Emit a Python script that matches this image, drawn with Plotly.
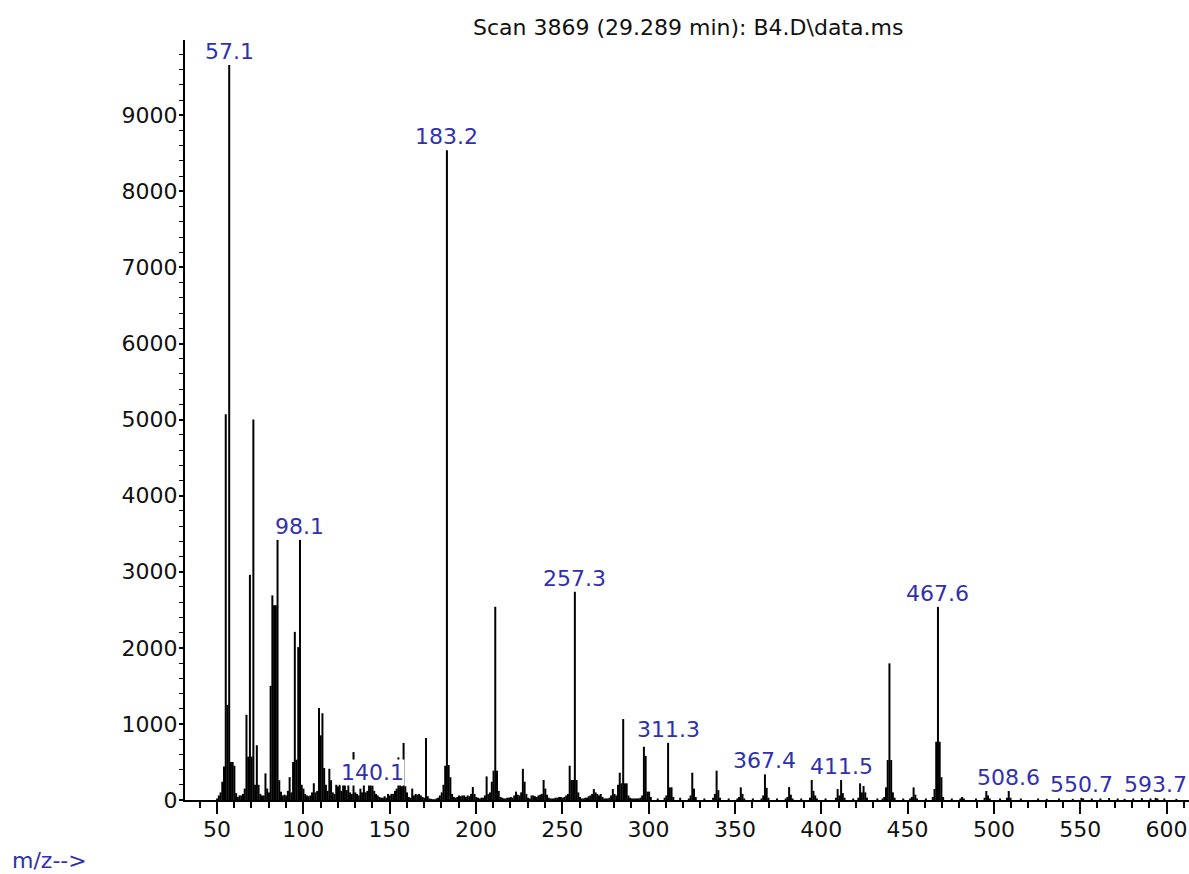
import plotly.graph_objects as go

title_text = "Scan 3869 (29.289 min): B4.D\\data.ms"
axis_note = "m/z-->"

# ---- spectrum data (m/z, abundance) ----
mz_a = [50.1, 51.1, 52.1, 53.1, 54.1, 55.1, 56.1, 57.1, 58.1, 59.1,
        60.1, 61.1, 62.1, 63.1, 64.1, 65.1, 66.1, 67.1, 68.1, 69.1,
        70.1, 71.1, 72.1, 73.1, 74.1, 75.1, 76.1, 77.1, 78.1, 79.1,
        80.1, 81.1, 82.1, 83.1, 84.1, 85.1, 86.1, 87.1, 88.1, 89.1,
        90.1, 91.1, 92.1, 93.1, 94.1, 95.1, 96.1, 97.1, 98.1, 99.1]
ab_a = [20, 60, 100, 240, 440, 5070, 1250, 9660, 500, 500,
        450, 90, 40, 60, 60, 80, 150, 1120, 570, 2960,
        570, 5000, 200, 720, 200, 80, 60, 60, 350, 150,
        100, 1500, 2690, 2560, 2560, 3420, 260, 110, 60, 70,
        60, 120, 300, 100, 500, 2210, 530, 2010, 3420, 200]

mz_b = [100.1, 101.1, 102.1, 103.1, 104.1, 105.1, 106.1, 107.1, 108.1, 109.1,
        110.1, 111.1, 112.1, 113.1, 114.1, 115.1, 116.1, 117.1, 118.1, 119.1,
        120.1, 121.1, 122.1, 123.1, 124.1, 125.1, 126.1, 127.1, 128.1, 129.1,
        130.1, 131.1, 132.1, 133.1, 134.1, 135.1, 136.1, 137.1, 138.1, 139.1,
        140.1, 141.1, 142.1, 143.1, 144.1, 145.1, 146.1, 147.1, 148.1, 149.1]
ab_b = [150, 80, 60, 50, 60, 100, 220, 100, 120, 1210,
        850, 1140, 420, 200, 120, 410, 260, 100, 80, 200,
        180, 200, 120, 200, 200, 130, 200, 100, 80, 630,
        100, 80, 60, 150, 100, 300, 100, 120, 200, 300,
        190, 120, 80, 60, 40, 30, 30, 50, 30, 80]

mz_c = [150.1, 151.1, 152.1, 153.1, 154.1, 155.1, 156.1, 157.1, 158.1, 159.1,
        160.1, 161.1, 162.1, 163.1, 164.1, 165.1, 166.1, 167.1, 168.1, 169.1,
        170.1, 171.1, 172.1, 173.1, 174.1, 175.1, 176.1, 177.1, 178.1, 179.1,
        180.2, 181.2, 182.2, 183.2, 184.2, 185.2, 186.2, 187.2, 188.2, 189.2,
        190.2, 191.2, 192.2, 193.2, 194.2, 195.2, 196.2, 197.2, 198.2, 199.2]
ab_c = [60, 80, 80, 120, 150, 560, 200, 180, 750, 180,
        100, 40, 30, 150, 60, 80, 70, 80, 60, 40,
        30, 815, 50, 20, 15, 10, 10, 20, 30, 60,
        100, 200, 450, 8540, 460, 300, 80, 40, 30, 40,
        60, 50, 60, 60, 40, 60, 50, 80, 170, 80]

mz_d = [200.2, 201.2, 202.2, 203.2, 204.2, 205.2, 206.2, 207.2, 208.2, 209.2,
        210.2, 211.2, 212.2, 213.2, 214.2, 215.2, 216.2, 217.2, 218.2, 219.2,
        220.2, 221.2, 222.2, 223.2, 224.2, 225.2, 226.2, 227.2, 228.2, 229.2,
        230.2, 231.2, 232.2, 233.2, 234.2, 235.2, 236.2, 237.2, 238.2, 239.2,
        240.2, 241.2, 242.2, 243.2, 244.2, 245.2, 246.2, 247.2, 248.2, 249.2]
ab_d = [40, 30, 20, 30, 30, 60, 310, 80, 100, 240,
        385, 2540, 385, 120, 40, 30, 20, 20, 30, 30,
        40, 30, 60, 110, 70, 60, 100, 410, 240, 80,
        30, 20, 60, 60, 50, 40, 60, 70, 80, 263,
        150, 70, 30, 20, 20, 20, 30, 30, 40, 40]

mz_e = [250.3, 251.3, 252.3, 253.3, 254.3, 255.3, 256.3, 257.3, 258.3, 259.3,
        260.3, 261.3, 262.3, 263.3, 264.3, 265.3, 266.3, 267.3, 268.3, 269.3,
        270.3, 271.3, 272.3, 273.3, 274.3, 275.3, 276.3, 277.3, 278.3, 279.3,
        280.3, 281.3, 282.3, 283.3, 284.3, 285.3, 286.3, 287.3, 288.3, 289.3,
        290.3, 291.3, 292.3, 293.3, 294.3, 295.3, 296.3, 297.3, 298.3, 299.3]
ab_e = [30, 40, 60, 80, 451, 263, 263, 2740, 263, 100,
        40, 20, 20, 30, 30, 50, 60, 80, 144, 100,
        80, 60, 80, 40, 20, 20, 20, 30, 60, 144,
        80, 60, 200, 359, 219, 1064, 219, 219, 60, 30,
        20, 20, 20, 20, 20, 30, 60, 700, 580, 110]

mz_f = [300.3, 301.3, 305.3, 309.3, 310.3, 311.3, 312.3, 313.3, 314.3, 318.3,
        323.3, 324.3, 325.3, 326.3, 327.3, 332.3, 337.4, 338.4, 339.4, 340.4,
        341.4, 346.4, 351.4, 352.4, 353.4, 354.4, 355.4, 360.4, 365.4, 366.4,
        367.4, 368.4, 369.4, 374.4, 379.4, 380.4, 381.4, 382.4, 383.4, 388.4,
        393.5, 394.5, 395.5, 396.5, 397.5]
ab_f = [110, 40, 20, 30, 60, 753, 166, 166, 40, 30,
        20, 60, 359, 150, 40, 20, 30, 80, 385, 130,
        30, 20, 20, 40, 166, 80, 20, 20, 20, 60,
        337, 160, 30, 20, 20, 40, 170, 70, 20, 20,
        30, 263, 120, 60, 20]

mz_g = [402.5, 408.5, 409.5, 410.5, 411.5, 412.5, 413.5, 418.5, 421.5, 422.5,
        423.5, 424.5, 425.5, 426.5, 432.5, 435.5, 436.5, 437.5, 438.5, 439.5,
        440.5, 441.5, 442.5, 447.5, 451.5, 452.5, 453.5, 454.5, 455.5, 460.6,
        464.6, 465.6, 466.6, 467.6, 468.6, 469.6, 470.6, 475.6, 480.6, 481.6,
        482.6, 489.6, 494.6, 495.6, 496.6, 497.6]
ab_g = [20, 30, 144, 60, 263, 90, 30, 20, 30, 219,
        100, 184, 100, 30, 20, 20, 40, 166, 525, 1796,
        525, 100, 30, 20, 20, 40, 166, 70, 20, 20,
        40, 144, 766, 2540, 766, 300, 40, 20, 20, 40,
        20, 20, 30, 118, 60, 20]

mz_h = [503.6, 507.6, 508.6, 509.6, 515.6, 525.6, 530.6, 537.7, 545.7, 550.7,
        551.7, 556.7, 561.7, 566.7, 571.7, 575.7, 580.7, 585.7, 590.7, 593.7,
        594.7, 598.7, 605.7]
ab_h = [20, 30, 118, 30, 20, 20, 15, 20, 15, 30,
        20, 20, 20, 25, 20, 15, 20, 25, 20, 30,
        20, 20, 15]

label_mz = [57.1, 98.1, 140.1, 183.2, 257.3, 311.3, 367.4, 411.5, 467.6,
            508.6, 550.7, 593.7]

x_ticks = [50, 100, 150, 200, 250, 300, 350, 400, 450, 500, 550, 600]
y_ticks = [0, 1000, 2000, 3000, 4000, 5000, 6000, 7000, 8000, 9000]

mz = mz_a + mz_b + mz_c + mz_d + mz_e + mz_f + mz_g + mz_h
ab = ab_a + ab_b + ab_c + ab_d + ab_e + ab_f + ab_g + ab_h
lookup = dict(zip(mz, ab))

xs, ys = [], []
for m, a in zip(mz, ab):
    xs += [m, m, None]
    ys += [0, a, None]

FONT = "DejaVu Sans"
FS = 22
LABEL_BLUE = "#3030b0"

fig = go.Figure()
fig.add_trace(go.Scatter(x=xs, y=ys, mode="lines",
                         line=dict(color="black", width=2),
                         hoverinfo="skip", showlegend=False))

for m in label_mz:
    fig.add_annotation(x=m, y=lookup[m], xref="x", yref="y", text=f"{m:.1f}",
                       showarrow=False, yanchor="bottom", xanchor="center",
                       yshift=0, bgcolor="white", borderpad=0,
                       font=dict(family=FONT, size=FS, color=LABEL_BLUE))

fig.add_annotation(x=0.501, y=1.017, xref="paper", yref="paper", text=title_text,
                   showarrow=False, xanchor="center", yanchor="middle",
                   font=dict(family=FONT, size=FS, color="#111111"))
fig.add_annotation(x=-0.1743, y=-0.0795, xref="paper", yref="paper", text=axis_note,
                   showarrow=False, xanchor="left", yanchor="middle",
                   font=dict(family=FONT, size=FS, color=LABEL_BLUE))

fig.update_layout(
    width=1189, height=874,
    margin=dict(l=185, r=0, t=40, b=74, pad=0, autoexpand=False),
    paper_bgcolor="white", plot_bgcolor="white",
    showlegend=False, hovermode=False,
    font=dict(family=FONT, size=FS, color="#111111"),
)
fig.update_xaxes(range=[31.5, 613], tickvals=x_ticks, ticktext=[str(v) for v in x_ticks],
                 automargin=False, ticklabelstandoff=-3,
                 showgrid=False, zeroline=False, showline=True, linecolor="black",
                 linewidth=2, ticks="outside", ticklen=12, tickwidth=2, tickcolor="black",
                 minor=dict(dtick=10, tick0=0, ticklen=6, tickwidth=2, tickcolor="black",
                            ticks="outside", showgrid=False),
                 tickfont=dict(family=FONT, size=FS, color="#111111"))
fig.update_yaxes(range=[0, 9990], tickvals=y_ticks, ticktext=[str(v) for v in y_ticks],
                 automargin=False, ticklabelstandoff=-3,
                 showgrid=False, zeroline=False, showline=True, linecolor="black",
                 linewidth=2, ticks="outside", ticklen=4, tickwidth=2, tickcolor="black",
                 minor=dict(dtick=200, tick0=0, ticklen=4, tickwidth=1, tickcolor="black",
                            ticks="outside", showgrid=False),
                 tickfont=dict(family=FONT, size=FS, color="#111111"))

fig.write_html("out.html", config={"displayModeBar": False},
               post_script="document.body.style.margin='0';document.body.style.padding='0';")
